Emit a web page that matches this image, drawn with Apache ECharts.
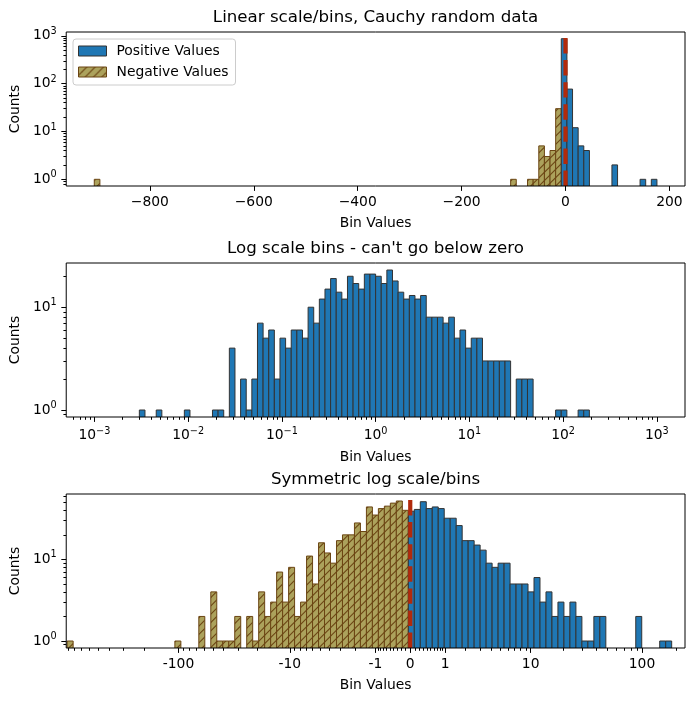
<!DOCTYPE html>
<html>
<head>
<meta charset="utf-8">
<title>Cauchy histograms</title>
<script src="https://cdn.jsdelivr.net/npm/echarts@6/dist/echarts.min.js"></script>
<style>
  html, body { margin: 0; padding: 0; background: #fff; }
  #chart { width: 694px; height: 701px; }
</style>
</head>
<body>
<div id="chart"></div>
<script>
// ---- values ----

// top panel: 100 linear bins, first edge -907, width 10.83
var linBinStart = -907;
var linBinWidth = 10.83;
var linPositive = [
  0,0,0,0,0,0,0,0,0,0,   0,0,0,0,0,0,0,0,0,0,
  0,0,0,0,0,0,0,0,0,0,   0,0,0,0,0,0,0,0,0,0,
  0,0,0,0,0,0,0,0,0,0,   0,0,0,0,0,0,0,0,0,0,
  0,0,0,0,0,0,0,0,0,0,   0,0,0,0,0,0,0,0,0,0,
  0,0,0,870,77,12,5,4,0,0,   0,0,2,0,0,0,0,1,0,1
];
var linNegative = [
  1,0,0,0,0,0,0,0,0,0,   0,0,0,0,0,0,0,0,0,0,
  0,0,0,0,0,0,0,0,0,0,   0,0,0,0,0,0,0,0,0,0,
  0,0,0,0,0,0,0,0,0,0,   0,0,0,0,0,0,0,0,0,0,
  0,0,0,0,0,0,0,0,0,0,   0,0,0,0,1,0,0,1,1,5,
  3,4,30,0,0,0,0,0,0,0,   0,0,0,0,0,0,0,0,0,0
];

// middle panel: 100 log bins, edges in log10 units from -3, width 0.06
var logBinStart = -3;
var logBinWidth = 0.06;
var logPositive = [
  0,0,0,0,0,0,0,0,1,0,
  0,1,0,0,0,0,1,0,0,0,
  0,1,1,0,4,0,2,1,2,7,
  5,6,2,5,4,6,6,5,10,7,
  12,15,19,14,12,20,17,15,21,21,
  20,17,23,18,14,12,13,12,13,8,
  8,8,7,8,5,6,4,5,5,3,
  3,3,3,3,0,2,2,2,0,0,
  0,0,1,1,0,0,1,1,0,0,
  0,0,0,0,0,0,0,0,0,0
];

// bottom panel: 101 bins in s(x) = sign(x)*log10(1+|x|), from -2.967, width 0.05176
var symBinStart = -2.967;
var symBinWidth = 0.05176;
var symNegative = [
  1,0,0,0,0,0,0,0,0,0,
  0,0,0,0,0,0,0,0,1,0,
  0,0,2,0,4,1,1,1,2,0,
  2,1,4,2,3,7,3,8,2,3,
  11,5,16,12,9,17,20,20,28,22,
  44,35,42,45,49,52,40,0,0,0,
  0,0,0,0,0,0,0,0,0,0,
  0,0,0,0,0,0,0,0,0,0,
  0,0,0,0,0,0,0,0,0,0,
  0,0,0,0,0,0,0,0,0,0,
  0
];
var symPositive = [
  0,0,0,0,0,0,0,0,0,0,
  0,0,0,0,0,0,0,0,0,0,
  0,0,0,0,0,0,0,0,0,0,
  0,0,0,0,0,0,0,0,0,0,
  0,0,0,0,0,0,0,0,0,0,
  0,0,0,0,0,0,0,39,41,51,
  42,44,42,32,32,26,17,17,15,13,
  9,8,9,9,5,5,5,4,6,3,
  4,2,3,2,3,2,1,1,2,2,
  0,0,0,0,0,2,0,0,0,1,
  1
];

// tick labels
var linTicks = [-800, -600, -400, -200, 0, 200];
var logTickExps = [-3, -2, -1, 0, 1, 2, 3];
var symTicks = [-100, -10, -1, 0, 1, 10, 100];
var symTickLabels = ['-100', '-10', '-1', '0', '1', '10', '100'];
var countTickExps = [[0, 1, 2, 3], [0, 1], [0, 1]];

var titles = [
  'Linear scale/bins, Cauchy random data',
  "Log scale bins - can't go below zero",
  'Symmetric log scale/bins'
];

// ---- styling ----
var FONT = 'DejaVu Sans';
var BLUE = '#1f77b4';
var BLUE_EDGE = '#333333';
var OLIVE = '#aca25c';
var OLIVE_EDGE = '#6b4513';
var RED = '#b22a0b';
var MINUS = '\u2212';

function symlog(v) { return (v < 0 ? -1 : 1) * Math.log10(1 + Math.abs(v)); }

function makeHatch() {
  var size = 25, step = size / 3;
  var c = document.createElement('canvas');
  c.width = size; c.height = size;
  var ctx = c.getContext('2d');
  ctx.fillStyle = OLIVE;
  ctx.fillRect(0, 0, size, size);
  ctx.strokeStyle = OLIVE_EDGE;
  ctx.lineWidth = 1.1;
  for (var k = -1; k <= 7; k++) {
    var d = k * step;
    ctx.beginPath();
    ctx.moveTo(d + 5, -5);
    ctx.lineTo(d - size - 5, size + 5);
    ctx.stroke();
  }
  return { image: c, repeat: 'repeat' };
}
var hatch = makeHatch();

// one item per non-empty bin: [left edge, right edge, log10(count)]
function binItems(counts, start, width) {
  var out = [];
  counts.forEach(function (c, i) {
    if (c > 0) out.push([start + i * width, start + (i + 1) * width, Math.log10(c)]);
  });
  return out;
}

// log-decade minor ticks (2..9 x 10^e), in log10 units
function logMinors(e0, e1, lo, hi) {
  var out = [];
  for (var e = e0; e <= e1; e++) {
    for (var m = 2; m <= 9; m++) {
      var v = Math.log10(m) + e;
      if (v > lo && v < hi) out.push(v);
    }
  }
  return out;
}

function symMinors(lo, hi) {
  var raw = [];
  for (var m = 1; m <= 9; m++) { raw.push(m / 10); raw.push(-m / 10); }
  for (var e = 0; e <= 2; e++) {
    for (var m2 = 2; m2 <= 9; m2++) { raw.push(m2 * Math.pow(10, e)); raw.push(-m2 * Math.pow(10, e)); }
  }
  return raw.map(symlog).filter(function (v) { return v > lo && v < hi; });
}

function sup(exp) {
  var s = exp < 0 ? MINUS + (-exp) : String(exp);
  return '{b|10}{s|' + s + '}';
}

var labelText = { color: '#000', fontFamily: FONT, fontSize: 13.89 };
var supRich = {
  b: { fontFamily: FONT, fontSize: 13.89, color: '#000' },
  s: { fontFamily: FONT, fontSize: 9.7, color: '#000', padding: [0, 0, 9, 0] }
};

var GRID_LEFT = 66, GRID_W = 619, GRID_H = 154;
var gridTops = [32, 263, 494];

var panels = [
  {
    xMin: -961, xMax: 230, yMin: -0.14, yMax: 3.08,
    xMajor: linTicks, xMinor: [],
    xFormat: function (v) { return v < 0 ? MINUS + (-v) : String(v); },
    xRich: null, labelMargin: 9, nameGap: 30,
    yMinor: logMinors(-1, 3, -0.14, 3.08)
  },
  {
    xMin: -3.3, xMax: 3.3, yMin: -0.068, yMax: 1.43,
    xMajor: logTickExps, xMinor: logMinors(-4, 3, -3.3, 3.3),
    xFormat: function (v) { return sup(Math.round(v)); },
    xRich: supRich, labelMargin: 9, nameGap: 33,
    yMinor: logMinors(-1, 1, -0.068, 1.43)
  },
  {
    xMin: -2.975, xMax: 2.376, yMin: -0.0858, yMax: 1.802,
    xMajor: symTicks.map(symlog), xMinor: symMinors(-2.975, 2.376),
    xFormat: function (v) {
      var best = 0;
      symTicks.forEach(function (t, i) {
        if (Math.abs(symlog(t) - v) < Math.abs(symlog(symTicks[best]) - v)) best = i;
      });
      return symTickLabels[best];
    },
    xRich: null, labelMargin: 9, nameGap: 30,
    yMinor: logMinors(-1, 1, -0.0858, 1.802)
  }
];

var noLine = { show: false, onZero: false };
var grid = [], xAxis = [], yAxis = [], title = [];
panels.forEach(function (p, i) {
  grid.push({
    left: GRID_LEFT, top: gridTops[i], width: GRID_W, height: GRID_H,
    show: true, borderColor: '#000', borderWidth: 1, backgroundColor: 'transparent', z: 10
  });
  title.push({
    text: titles[i], left: GRID_LEFT + GRID_W / 2, top: gridTops[i] - 23,
    textAlign: 'center', padding: 0,
    textStyle: { fontFamily: FONT, fontSize: 16.67, fontWeight: 'normal', color: '#000' }
  });
  var xLabel = Object.assign({
    customValues: p.xMajor, formatter: p.xFormat, margin: p.labelMargin
  }, labelText);
  if (p.xRich) xLabel.rich = p.xRich;
  xAxis.push({
    gridIndex: i, type: 'value', position: 'bottom', min: p.xMin, max: p.xMax,
    axisLine: noLine, splitLine: { show: false },
    axisTick: { show: true, customValues: p.xMajor, length: 4.9, lineStyle: { color: '#000', width: 1 } },
    axisLabel: xLabel,
    name: 'Bin Values', nameLocation: 'middle', nameGap: p.nameGap,
    nameTextStyle: labelText
  });
  xAxis.push({
    gridIndex: i, type: 'value', position: 'bottom', min: p.xMin, max: p.xMax,
    axisLine: noLine, splitLine: { show: false }, axisLabel: { show: false },
    axisTick: { show: p.xMinor.length > 0, customValues: p.xMinor, length: 2.8, lineStyle: { color: '#000', width: 1 } }
  });
  yAxis.push({
    gridIndex: i, type: 'value', position: 'left', min: p.yMin, max: p.yMax,
    axisLine: noLine, splitLine: { show: false },
    axisTick: { show: true, customValues: countTickExps[i], length: 4.9, lineStyle: { color: '#000', width: 1 } },
    axisLabel: Object.assign({
      customValues: countTickExps[i], margin: 9.5,
      formatter: function (v) { return sup(Math.round(v)); }, rich: supRich
    }, labelText),
    name: 'Counts', nameLocation: 'middle', nameGap: 43, nameTextStyle: labelText
  });
  yAxis.push({
    gridIndex: i, type: 'value', position: 'left', min: p.yMin, max: p.yMax,
    axisLine: noLine, splitLine: { show: false }, axisLabel: { show: false },
    axisTick: { show: true, customValues: p.yMinor, length: 2.8, lineStyle: { color: '#000', width: 1 } }
  });
});

function barSeries(name, panelIdx, items, fill, edge) {
  var bottom = panels[panelIdx].yMin - 0.5;
  return {
    type: 'custom', name: name, xAxisIndex: panelIdx * 2, yAxisIndex: panelIdx * 2,
    clip: true, silent: true, z: 2,
    itemStyle: { color: fill, borderColor: edge, borderWidth: 1 },
    encode: { x: [0, 1], y: 2 },
    data: items,
    renderItem: function (params, api) {
      var a = api.coord([api.value(0), bottom]);
      var b = api.coord([api.value(1), api.value(2)]);
      return {
        type: 'rect',
        shape: { x: a[0], y: b[1], width: b[0] - a[0], height: a[1] - b[1] },
        style: { fill: fill, stroke: edge, lineWidth: 1 }
      };
    }
  };
}

function zeroLine(panelIdx) {
  var p = panels[panelIdx];
  return {
    type: 'custom', xAxisIndex: panelIdx * 2, yAxisIndex: panelIdx * 2,
    silent: true, z: 5, encode: { x: 0, y: 1 },
    data: [[0, 0]],
    renderItem: function (params, api) {
      var a = api.coord([0, p.yMin]);
      var b = api.coord([0, p.yMax]);
      return {
        type: 'line',
        shape: { x1: a[0], y1: a[1], x2: b[0], y2: b[1] },
        style: { stroke: RED, lineWidth: 4.2, lineDash: [15.4, 6.7] }
      };
    }
  };
}

var series = [
  barSeries('Negative Values', 0, binItems(linNegative, linBinStart, linBinWidth), hatch, OLIVE_EDGE),
  barSeries('Positive Values', 0, binItems(linPositive, linBinStart, linBinWidth), BLUE, BLUE_EDGE),
  zeroLine(0),
  barSeries('Positive Values', 1, binItems(logPositive, logBinStart, logBinWidth), BLUE, BLUE_EDGE),
  barSeries('Negative Values', 2, binItems(symNegative, symBinStart, symBinWidth), hatch, OLIVE_EDGE),
  barSeries('Positive Values', 2, binItems(symPositive, symBinStart, symBinWidth), BLUE, BLUE_EDGE),
  zeroLine(2)
];

var chart = echarts.init(document.getElementById('chart'), null, { renderer: 'canvas' });
chart.setOption({
  animation: false,
  backgroundColor: '#fff',
  title: title,
  legend: {
    orient: 'vertical', left: 73, top: 39,
    data: [
      { name: 'Positive Values', itemStyle: { color: BLUE, borderColor: BLUE_EDGE, borderWidth: 1 } },
      { name: 'Negative Values', itemStyle: { color: hatch, borderColor: OLIVE_EDGE, borderWidth: 1 } }
    ],
    icon: 'rect', itemWidth: 28, itemHeight: 10, itemGap: 7,
    padding: [5, 7, 6, 5],
    backgroundColor: 'rgba(255,255,255,0.8)', borderColor: '#cccccc', borderWidth: 1, borderRadius: 3,
    textStyle: { fontFamily: FONT, fontSize: 13.89, color: '#000', padding: [0, 0, 0, 5] },
    selectedMode: false
  },
  grid: grid,
  xAxis: xAxis,
  yAxis: yAxis,
  series: series
});
</script>
</body>
</html>
